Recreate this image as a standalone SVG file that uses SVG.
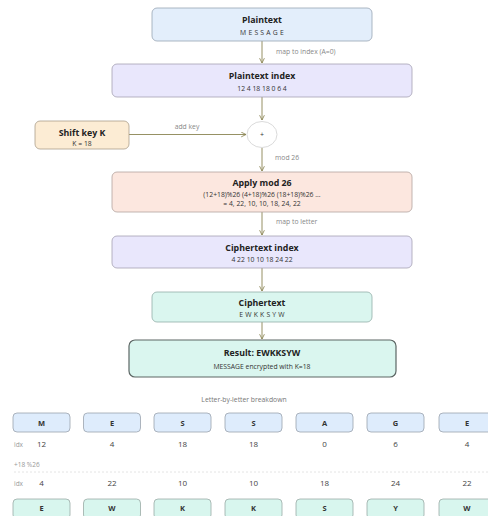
<svg xmlns="http://www.w3.org/2000/svg" width="488" height="516" viewBox="0 0 488 516">
<style>
text{font-family:"Open Sans","Noto Sans","DejaVu Sans",sans-serif;}
.t{font-size:8.8px;font-weight:bold;fill:#222;text-anchor:middle;}
.s{font-size:6.8px;fill:#333;text-anchor:middle;}
.sp{font-size:6.8px;fill:#333;text-anchor:middle;letter-spacing:2.2px;}
.lb{font-size:6.8px;fill:#888;}
.c{stroke:#8a8452;stroke-width:0.9;fill:none;marker-end:url(#ah);}
.bl{fill:#e3eefb;stroke:#98a4b4;stroke-width:0.8;}
.lv{fill:#e9e7fc;stroke:#a5a1b3;stroke-width:0.8;}
.pe{fill:#fce7df;stroke:#b3a39e;stroke-width:0.8;}
.or{fill:#fcecd4;stroke:#ab9e8c;stroke-width:0.8;}
.gr{fill:#daf6ef;stroke:#93aea8;stroke-width:0.8;}
.lt{fill:#deecfc;stroke:#9aa3ad;stroke-width:0.8;}
.lg{fill:#d8f6ee;stroke:#9aaba6;stroke-width:0.8;}
.ch{font-size:7.5px;font-weight:bold;fill:#333;text-anchor:middle;}
.v{font-size:8px;fill:#444;text-anchor:middle;}
.ix{font-size:6.5px;fill:#999;}
</style>
<defs>
<marker id="ah" viewBox="0 0 10 10" refX="9" refY="5" markerWidth="6" markerHeight="6" orient="auto" markerUnits="userSpaceOnUse">
<path d="M1,1 L9,5 L1,9" fill="none" stroke="#8a8452" stroke-width="1.4"/>
</marker>
</defs>
<rect width="488" height="516" fill="#ffffff"/>
<g id="connectors">
<line class="c" x1="262" y1="41" x2="262" y2="63"/>
<text class="lb" x="276" y="54">map to index (A=0)</text>
<line class="c" x1="262" y1="97" x2="262" y2="120"/>
<line class="c" x1="129" y1="134.5" x2="246" y2="134.5"/>
<text class="lb" x="187" y="129" text-anchor="middle">add key</text>
<line class="c" x1="262" y1="148" x2="262" y2="171"/>
<text class="lb" x="275" y="160">mod 26</text>
<line class="c" x1="262" y1="206" x2="262" y2="235"/>
<text class="lb" x="276" y="224">map to letter</text>
<line class="c" x1="262" y1="268" x2="262" y2="291"/>
<line class="c" x1="262" y1="322" x2="262" y2="339"/>
</g>
<g id="plaintext">
<rect class="bl" x="152" y="8" width="220" height="33" rx="5"/>
<text class="t" x="262" y="23">Plaintext</text>
<text class="sp" x="263" y="35">MESSAGE</text>
</g>
<g id="plaintext-index">
<rect class="lv" x="112" y="64" width="300" height="33" rx="5"/>
<text class="t" x="262" y="79">Plaintext index</text>
<text class="s" x="262" y="91">12 4 18 18 0 6 4</text>
</g>
<g id="shift-key">
<rect class="or" x="35" y="121" width="94" height="28" rx="5"/>
<text class="t" x="82" y="136">Shift key K</text>
<text class="s" x="82" y="146">K = 18</text>
</g>
<g id="add">
<ellipse cx="262" cy="134.5" rx="15" ry="13" fill="#ffffff" stroke="#d0d0d0" stroke-width="0.8"/>
<text class="s" x="262" y="137" style="font-size:7px">+</text>
</g>
<g id="apply-mod">
<rect class="pe" x="112" y="172" width="300" height="40" rx="5"/>
<text class="t" x="262" y="186">Apply mod 26</text>
<text class="s" x="262" y="197">(12+18)%26 (4+18)%26 (18+18)%26 ...</text>
<text class="s" x="262" y="206">= 4, 22, 10, 10, 18, 24, 22</text>
</g>
<g id="ciphertext-index">
<rect class="lv" x="112" y="236" width="300" height="32" rx="5"/>
<text class="t" x="262" y="251">Ciphertext index</text>
<text class="s" x="262" y="262">4 22 10 10 18 24 22</text>
</g>
<g id="ciphertext">
<rect class="gr" x="152" y="292" width="220" height="30" rx="5"/>
<text class="t" x="262" y="306">Ciphertext</text>
<text class="sp" x="263" y="317">EWKKSYW</text>
</g>
<g id="result">
<rect x="129" y="340" width="267" height="37" rx="6" fill="#daf6ef" stroke="#5c6664" stroke-width="1.2"/>
<text class="t" x="262" y="356">Result: EWKKSYW</text>
<text class="s" x="262" y="369">MESSAGE encrypted with K=18</text>
</g>
<g id="breakdown">
<text class="lb" x="244" y="402" text-anchor="middle" style="fill:#777">Letter-by-letter breakdown</text>
<g id="top-letters">
<rect class="lt" x="13" y="413" width="57" height="19" rx="4"/>
<rect class="lt" x="83.5" y="413" width="57" height="19" rx="4"/>
<rect class="lt" x="154" y="413" width="57" height="19" rx="4"/>
<rect class="lt" x="225" y="413" width="57" height="19" rx="4"/>
<rect class="lt" x="296" y="413" width="57" height="19" rx="4"/>
<rect class="lt" x="367" y="413" width="57" height="19" rx="4"/>
<rect class="lt" x="439" y="413" width="57" height="19" rx="4"/>
<text class="ch" x="41.5" y="425.5">M</text>
<text class="ch" x="112" y="425.5">E</text>
<text class="ch" x="182.5" y="425.5">S</text>
<text class="ch" x="253.5" y="425.5">S</text>
<text class="ch" x="324.5" y="425.5">A</text>
<text class="ch" x="395.5" y="425.5">G</text>
<text class="ch" x="467" y="425.5">E</text>
</g>
<g id="rows">
<text class="ix" x="14" y="447">idx</text>
<text class="v" x="41.5" y="447">12</text>
<text class="v" x="112" y="447">4</text>
<text class="v" x="182.5" y="447">18</text>
<text class="v" x="253.5" y="447">18</text>
<text class="v" x="324.5" y="447">0</text>
<text class="v" x="395.5" y="447">6</text>
<text class="v" x="467" y="447">4</text>
<text class="ix" x="14" y="467">+18 %26</text>
<line x1="14" y1="472" x2="488" y2="472" stroke="#dddddd" stroke-width="0.8" stroke-dasharray="2 2"/>
<text class="ix" x="14" y="486">idx</text>
<text class="v" x="41.5" y="486">4</text>
<text class="v" x="112" y="486">22</text>
<text class="v" x="182.5" y="486">10</text>
<text class="v" x="253.5" y="486">10</text>
<text class="v" x="324.5" y="486">18</text>
<text class="v" x="395.5" y="486">24</text>
<text class="v" x="467" y="486">22</text>
</g>
<g id="bottom-letters">
<rect class="lg" x="13" y="499" width="57" height="20" rx="4"/>
<rect class="lg" x="83.5" y="499" width="57" height="20" rx="4"/>
<rect class="lg" x="154" y="499" width="57" height="20" rx="4"/>
<rect class="lg" x="225" y="499" width="57" height="20" rx="4"/>
<rect class="lg" x="296" y="499" width="57" height="20" rx="4"/>
<rect class="lg" x="367" y="499" width="57" height="20" rx="4"/>
<rect class="lg" x="439" y="499" width="57" height="20" rx="4"/>
<text class="ch" x="41.5" y="511">E</text>
<text class="ch" x="112" y="511">W</text>
<text class="ch" x="182.5" y="511">K</text>
<text class="ch" x="253.5" y="511">K</text>
<text class="ch" x="324.5" y="511">S</text>
<text class="ch" x="395.5" y="511">Y</text>
<text class="ch" x="467" y="511">W</text>
</g>
</g>
</svg>
